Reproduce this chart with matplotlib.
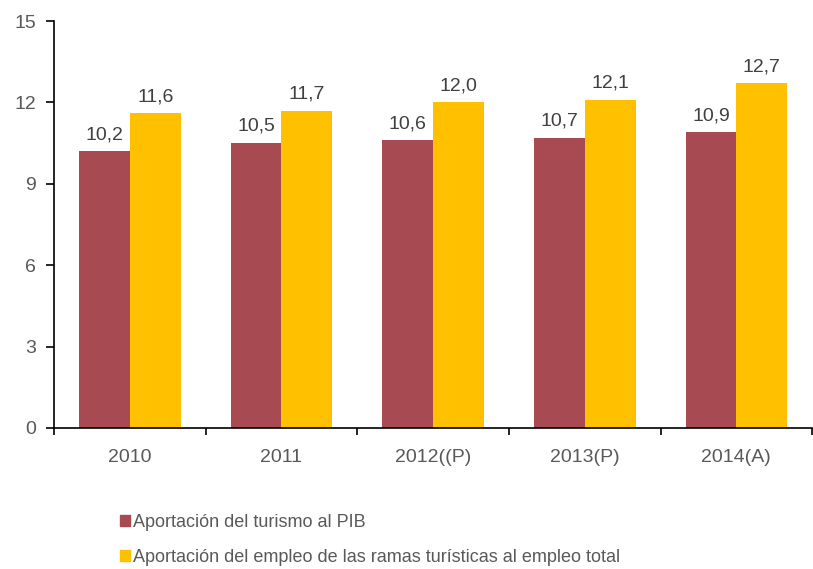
import numpy as np
import matplotlib.pyplot as plt
from matplotlib.patches import Patch

plt.rcParams['font.family'] = ['Liberation Sans', 'DejaVu Sans']

# data
years = ["2010", "2011", "2012((P)", "2013(P)", "2014(A)"]
pib = [10.2, 10.5, 10.6, 10.7, 10.9]
empleo = [11.6, 11.7, 12.0, 12.1, 12.7]
series_names = ["Aportación del turismo al PIB",
                "Aportación del empleo de las ramas turísticas al empleo total"]

red = "#A84A52"
yellow = "#FFC000"
txt = "#595959"

fig = plt.figure(figsize=(8.13, 5.69), dpi=100)
ax = fig.add_axes([54/813, 1 - 428/569, 1 - 54/813 - 0.001, (428 - 21)/569])

x = np.arange(len(years))
w = 0.335
b1 = ax.bar(x - w/2, pib, w, color=red, edgecolor="none")
b2 = ax.bar(x + w/2, empleo, w, color=yellow, edgecolor="none")

# value labels above the bars, decimal comma
for bars, vals in ((b1, pib), (b2, empleo)):
    for r, v in zip(bars, vals):
        ax.text(r.get_x() + r.get_width()/2, v + 0.3, f"{v:.1f}".replace(".", ","),
                ha="center", va="bottom", fontsize=14, color="#404040")

ax.set_xlim(-0.5, len(years) - 0.5)
ax.set_ylim(0, 15)
ax.set_yticks([0, 3, 6, 9, 12, 15])
ax.set_xticks(x)
ax.set_xticklabels(years)
ax.set_xticks(np.arange(-0.5, len(years)), minor=True)   # tick marks between groups

for s in ("top", "right"):
    ax.spines[s].set_visible(False)
ax.spines["left"].set_linewidth(1.2)
ax.spines["bottom"].set_linewidth(1.2)
ax.tick_params(axis="x", which="major", length=0, pad=15, labelsize=14, labelcolor=txt)
ax.tick_params(axis="x", which="minor", length=5, width=1.2, direction="out")
ax.tick_params(axis="y", length=6, width=1.2, direction="out", pad=7, labelsize=14, labelcolor=txt)

handles = [Patch(color=red), Patch(color=yellow)]
leg = fig.legend(handles, series_names, loc="center left", bbox_to_anchor=(0.147, 1 - 540/569),
                 frameon=False, fontsize=13, handlelength=0.6, handleheight=0.6,
                 handletextpad=0.15, labelspacing=1.0, borderaxespad=0, borderpad=0)
for t in leg.get_texts():
    t.set_color(txt)

fig.savefig("out.png", dpi=100)
